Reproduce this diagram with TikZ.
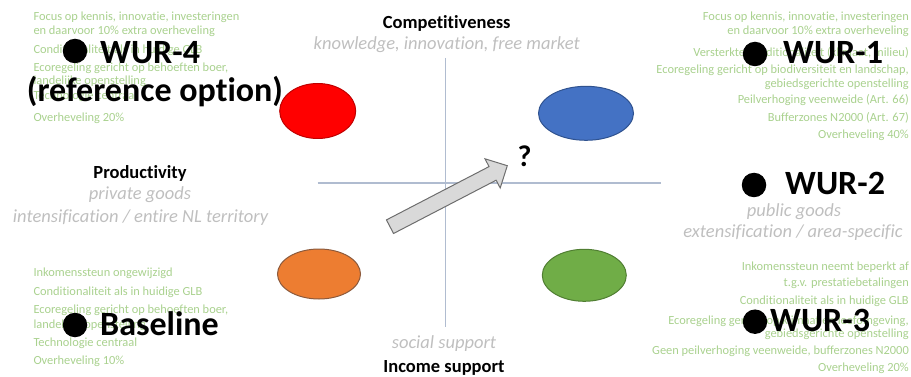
\documentclass[tikz,border=0pt]{standalone}
\usepackage{fontspec}
\setmainfont{Carlito}[Ligatures=NoCommon]
\usetikzlibrary{shapes.geometric}
\definecolor{greentxt}{HTML}{A9D18E}
\definecolor{graytxt}{HTML}{BFBFBF}
\definecolor{axiscol}{HTML}{B0BCD0}
\definecolor{redfill}{HTML}{FF0000}
\definecolor{redline}{HTML}{C00000}
\definecolor{bluefill}{HTML}{4472C4}
\definecolor{blueline}{HTML}{2F528F}
\definecolor{orangefill}{HTML}{ED7D31}
\definecolor{orangeline}{HTML}{8C5A3C}
\definecolor{greenfill}{HTML}{70AD47}
\definecolor{greenline}{HTML}{507E32}
\definecolor{arrowfill}{HTML}{D9D9D9}
\definecolor{arrowline}{HTML}{6E6E6E}
\tikzset{
  gl/.style={inner sep=0pt, text=greentxt, font=\fontsize{12.4}{15}\selectfont, anchor=base west},
  gr/.style={gl, anchor=base east},
  ttl/.style={inner sep=0pt, anchor=base, font=\fontsize{18.5}{22}\selectfont\bfseries},
  sub/.style={inner sep=0pt, anchor=base, text=graytxt, font=\fontsize{18.5}{22}\selectfont\itshape},
  wur/.style={inner sep=0pt, anchor=base west, font=\fontsize{34}{40}\selectfont\bfseries},
  dot/.style={circle, fill=black, inner sep=0pt, minimum size=24.5pt},
  blob/.style={ellipse, draw, line width=1pt, inner sep=0pt},
  axis/.style={draw=axiscol, line width=1.2pt}
}
\begin{document}
\begin{tikzpicture}[x=1pt,y=-1pt]
\useasboundingbox (0,0) rectangle (911,377);
% axes
\coordinate (vt) at (445.7,58);
\coordinate (vb) at (445.7,327);
\coordinate (hl) at (317.7,183);
\coordinate (hr) at (660.7,183);
\draw[axis] (vt) -- (vb);
\draw[axis] (hl) -- (hr);
% ellipses
\node[blob, fill=redfill, draw=redline, minimum width=76pt, minimum height=55pt] (red) at (317.7,111) {};
\node[blob, fill=bluefill, draw=blueline, minimum width=95pt, minimum height=54pt] (blue) at (586,113.3) {};
\node[blob, fill=orangefill, draw=orangeline, minimum width=83pt, minimum height=50pt] (orange) at (319,274) {};
\node[blob, fill=greenfill, draw=greenline, minimum width=84pt, minimum height=52pt] (green) at (584.3,275.3) {};
% block arrow
\draw[fill=arrowfill, draw=arrowline, line width=1pt, line join=miter]
  (386.45,219.9) -- (489.05,166.6) -- (485,158.8) -- (507.3,165.7)
  -- (500.2,188) -- (496.15,180.2) -- (393.55,233.5) -- cycle;
\node[inner sep=0pt, anchor=base, font=\fontsize{30}{34}\selectfont\bfseries] (q) at (524.5,167) {?};
% titles
\node[ttl] (comp) at (446.7,28.3) {Competitiveness};
\node[sub] (compsub) at (446.7,50) {knowledge, innovation, free market};
\node[ttl] (prod) at (140,178.3) {Productivity};
\node[sub] (prods1) at (140,200) {private goods};
\node[sub] (prods2) at (140.5,222.7) {intensification / entire NL territory};
\node[sub] (pub1) at (794,216) {public goods};
\node[sub] (pub2) at (793,237.3) {extensification / area-specific};
\node[sub] (soc) at (444,348.3) {social support};
\node[ttl] (inc) at (444,372.7) {Income support};
% WUR-4 text
\node[gl] (a1) at (33.3,20.7) {Focus op kennis, innovatie, investeringen};
\node[gl] (a2) at (33.3,35) {en daarvoor 10\% extra overheveling};
\node[gl] (a3) at (33.3,53.3) {Conditionaliteit als in huidige GLB};
\node[gl] (a4) at (33.3,71.7) {Ecoregeling gericht op behoeften boer,};
\node[gl] (a5) at (33.3,85) {landelijke openstelling};
\node[gl] (a6) at (33.3,100) {Technologie centraal};
\node[gl] (a7) at (33.3,121.7) {Overheveling 20\%};
% Baseline text
\node[gl] (b1) at (33.3,276.7) {Inkomenssteun ongewijzigd};
\node[gl] (b2) at (33.3,295.7) {Conditionaliteit als in huidige GLB};
\node[gl] (b3) at (33.3,313.3) {Ecoregeling gericht op behoeften boer,};
\node[gl] (b4) at (33.3,328.3) {landelijke openstelling};
\node[gl] (b5) at (33.3,346.7) {Technologie centraal};
\node[gl] (b6) at (33.3,364.3) {Overheveling 10\%};
% WUR-1 text
\node[gr] (c1) at (909,21) {Focus op kennis, innovatie, investeringen};
\node[gr] (c2) at (909,35) {en daarvoor 10\% extra overheveling};
\node[gr] (c3) at (909,56.7) {Versterkte conditionaliteit (klimaat, milieu)};
\node[gr] (c4) at (909,74) {Ecoregeling gericht op biodiversiteit en landschap,};
\node[gr] (c5) at (909,87.3) {gebiedsgerichte openstelling};
\node[gr] (c6) at (909,104) {Peilverhoging veenweide (Art. 66)};
\node[gr] (c7) at (909,121.7) {Bufferzones N2000 (Art. 67)};
\node[gr] (c8) at (909,139) {Overheveling 40\%};
% WUR-3 text
\node[gr] (d1) at (909,270) {Inkomenssteun neemt beperkt af};
\node[gr] (d2) at (909,286.7) {t.g.v. prestatiebetalingen};
\node[gr] (d3) at (909,304.3) {Conditionaliteit als in huidige GLB};
\node[gr] (d4) at (909,324) {Ecoregeling gericht op klimaat en leefomgeving,};
\node[gr] (d5) at (909,337.3) {gebiedsgerichte openstelling};
\node[gr] (d6) at (909,354.3) {Geen peilverhoging veenweide, bufferzones N2000};
\node[gr] (d7) at (909,371.7) {Overheveling 20\%};
% scenario labels
\node[dot] (dot4) at (75,51) {};
\node[wur] (w4) at (100,63.3) {WUR-4};
\node[wur] (w4b) at (26.7,101.7) {(reference option)};
\node[dot] (dot1) at (755,54) {};
\node[wur] (w1) at (783,63.3) {WUR-1};
\node[dot] (dot2) at (754,185) {};
\node[wur] (w2) at (785,195) {WUR-2};
\node[dot] (dot3) at (755,321.7) {};
\node[wur] (w3) at (770,331.7) {WUR-3};
\node[dot] (dot0) at (75,325) {};
\node[wur] (w0) at (100,335) {Baseline};
\end{tikzpicture}
\end{document}
